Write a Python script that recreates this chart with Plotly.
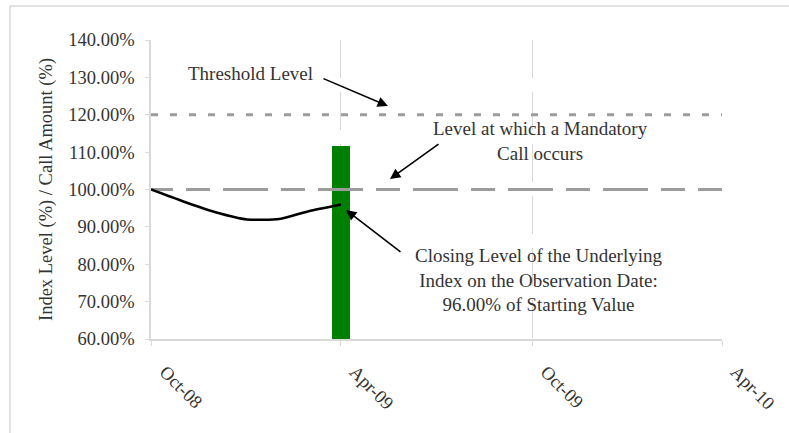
import plotly.graph_objects as go

# --- data -------------------------------------------------------------
months = ["2008-10-01", "2008-11-01", "2008-12-01", "2009-01-01",
          "2009-02-01", "2009-03-01", "2009-04-01"]
index_level = [100.0, 96.8, 94.0, 92.0, 92.1, 94.2, 96.0]

observation_date = ["2009-04-01"]
call_amount = [111.7]

span = ["2008-10-01", "2010-04-01"]
threshold_level = [120.0, 120.0]
mandatory_call_level = [100.0, 100.0]

tick_dates = ["2008-10-01", "2009-04-01", "2009-10-01", "2010-04-01"]
tick_labels = ["Oct-08", "Apr-09", "Oct-09", "Apr-10"]

# --- styles -----------------------------------------------------------
SERIF = "Liberation Serif"
GRID = "#d9d9d9"
REF_GREY = "#9c9c9c"
TEXT = "#333333"

W, H = 789, 433
L, R, T, B = 151, 67, 40, 94
PW, PH = W - L - R, H - T - B


def px(x, y):
    """pixel position -> paper coordinates"""
    return (x - L) / PW, (H - B - y) / PH


# long/short dash pattern for the mandatory-call line, entering mid-dash
call_dash = [22, 13, 24, 13] + [45, 13, 24, 13] * 7
call_dash = ",".join(f"{d}px" for d in call_dash)

fig = go.Figure()

fig.add_trace(go.Bar(
    x=observation_date, y=call_amount,
    width=16.5 * 86400000,
    marker=dict(color="#008000", line=dict(width=0)),
    showlegend=False, hoverinfo="skip",
))

fig.add_trace(go.Scatter(
    x=span, y=threshold_level, mode="lines",
    line=dict(color=REF_GREY, width=3, dash="7px,12px"),
    showlegend=False, hoverinfo="skip",
))

fig.add_trace(go.Scatter(
    x=span, y=mandatory_call_level, mode="lines",
    line=dict(color=REF_GREY, width=3, dash=call_dash),
    showlegend=False, hoverinfo="skip",
))

fig.add_trace(go.Scatter(
    x=months, y=index_level, mode="lines",
    line=dict(color="black", width=2.5, shape="spline", smoothing=0.6),
    showlegend=False, hoverinfo="skip",
))

annotations = []

# text blocks
for text, (cx, cy) in [
    ("Threshold Level", (250, 73)),
    ("Level at which a Mandatory<br>Call occurs", (540, 141)),
    ("Closing Level of the Underlying<br>Index on the Observation Date:<br>96.00% of Starting Value", (538, 280)),
]:
    ax_, ay_ = px(cx, cy)
    annotations.append(dict(
        x=ax_, y=ay_, xref="paper", yref="paper", text=text,
        showarrow=False, xanchor="center", yanchor="middle",
        font=dict(family=SERIF, size=19, color=TEXT), align="center",
    ))

# arrows: head pixel, tail offset
for (hx, hy), (dx, dy) in [
    ((388, 106), (-66, -28)),
    ((390, 179), (50, -36)),
    ((346, 210), (56, 43)),
]:
    ax_, ay_ = px(hx, hy)
    annotations.append(dict(
        x=ax_, y=ay_, xref="paper", yref="paper", text="",
        showarrow=True, ax=dx, ay=dy, axref="pixel", ayref="pixel",
        arrowhead=2, arrowsize=1.3, arrowwidth=1.6, arrowcolor="black",
    ))

# y-axis title
tx, ty = px(46, 190)
annotations.append(dict(
    x=tx, y=ty, xref="paper", yref="paper",
    text="Index Level (%) / Call Amount (%)", textangle=-90,
    showarrow=False, xanchor="center", yanchor="middle",
    font=dict(family=SERIF, size=18.5, color=TEXT),
))

fx0, fy0 = px(10, 6)
fx1, fy1 = px(820, 460)

fig.update_layout(
    width=W, height=H,
    margin=dict(l=L, r=R, t=T, b=B, pad=0),
    paper_bgcolor="white", plot_bgcolor="white",
    annotations=annotations,
    shapes=[dict(type="rect", xref="paper", yref="paper",
                 x0=fx0, y0=fy1, x1=fx1, y1=fy0,
                 line=dict(color=GRID, width=1.5), layer="below")],
    bargap=0,
)

fig.update_xaxes(
    type="date", range=span,
    tickvals=tick_dates, ticktext=tick_labels, tickangle=45,
    showgrid=True, gridcolor=GRID, gridwidth=1, griddash="38px,14px",
    showline=True, linecolor=GRID, linewidth=1.5,
    ticks="outside", ticklen=5, tickcolor=GRID,
    ticklabelstandoff=8, ticklabelshift=14,
    tickfont=dict(family=SERIF, size=18.5, color=TEXT),
    zeroline=False, fixedrange=True,
)

fig.update_yaxes(
    range=[60, 140], dtick=10, tick0=60,
    tickformat=".2f", ticksuffix="%",
    showgrid=False,
    showline=True, linecolor=GRID, linewidth=1.5,
    ticks="outside", ticklen=4, tickcolor=GRID,
    ticklabelstandoff=7,
    tickfont=dict(family=SERIF, size=18.5, color=TEXT),
    zeroline=False, fixedrange=True,
)

fig.write_html("out.html", config={"displayModeBar": False})
